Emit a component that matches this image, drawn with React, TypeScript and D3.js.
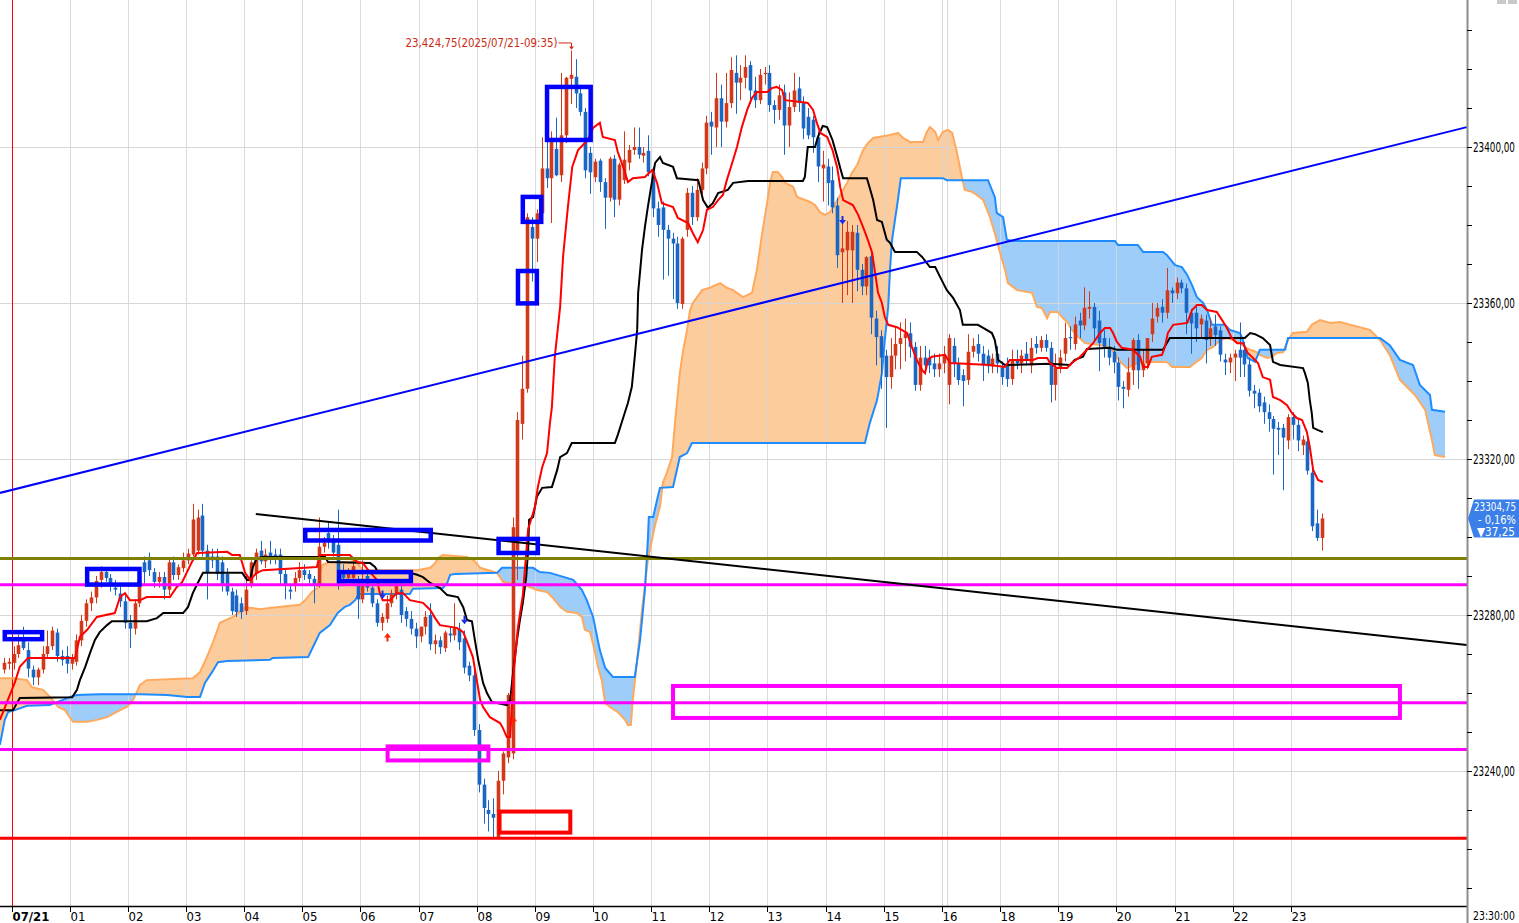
import React from "react";
import * as d3 from "d3";

// ---------------- DATA ----------------
// 5-minute bars, bar index 0 = 07/21 00:00 (hour 17 has no bars: 18:00 = index 204)
const FIRST_BAR = -2;
const SKIP_FROM_BAR = 204;
// [open, high, low, close]
const ohlc: number[][] = [
  [23266, 23269, 23265, 23267.75], [23267.5, 23269, 23266, 23268],
  [23267.75, 23272, 23266, 23270], [23270, 23275, 23269, 23272.25], [23274, 23277, 23271, 23271.5],
  [23271, 23273, 23264, 23266.25], [23266, 23267, 23262, 23264], [23264, 23266.5, 23262, 23266],
  [23266, 23272, 23265, 23270], [23270, 23276, 23269, 23272], [23272, 23277, 23271, 23276],
  [23275.5, 23276.5, 23268, 23269.5], [23269.5, 23271, 23267, 23268.5], [23269.5, 23272, 23265, 23267.5],
  [23267.5, 23270, 23266, 23269], [23268, 23275, 23267, 23273.5], [23273.5, 23280, 23272, 23278.5],
  [23278.5, 23284, 23277, 23283], [23283, 23286, 23281, 23284.5], [23284.5, 23290, 23283, 23288.75],
  [23289, 23292.5, 23287, 23291], [23291, 23292, 23288.5, 23289.5], [23289.5, 23290.5, 23286, 23288],
  [23287, 23289, 23285, 23286.5], [23285.5, 23287.5, 23282, 23283.5], [23283.5, 23285, 23276.5, 23278],
  [23278, 23280, 23271.5, 23276.5], [23276.5, 23284, 23275, 23283], [23283, 23290, 23282, 23289],
  [23293.5, 23295, 23288, 23291], [23294, 23296, 23290, 23291.5], [23291, 23292, 23287, 23288.5],
  [23288.5, 23291, 23287, 23289.75], [23289.75, 23291, 23284, 23286.5], [23286.5, 23294.5, 23285, 23293.5],
  [23293.5, 23295, 23289, 23290.25], [23290.25, 23293, 23289, 23292.25], [23292, 23296, 23291, 23294],
  [23294, 23297, 23293, 23295.75], [23295.5, 23308.5, 23295, 23304.5], [23296.5, 23307, 23295.5, 23305],
  [23305.5, 23308.5, 23295, 23296.5], [23296.5, 23298, 23284, 23291], [23295, 23297, 23292, 23294],
  [23295, 23297, 23289, 23290.5], [23293.5, 23295, 23286, 23288], [23290.5, 23292, 23285, 23286],
  [23286, 23287, 23280, 23281], [23285, 23286.5, 23279.5, 23280.75], [23283, 23284.5, 23279, 23280.75],
  [23281, 23290, 23280, 23286.5], [23288, 23294, 23287, 23293.5], [23290.5, 23297, 23289, 23296],
  [23296.5, 23299, 23293, 23293.75], [23293.75, 23297, 23292, 23295.5], [23296, 23299, 23293, 23294.5],
  [23295.5, 23297, 23293, 23294.5], [23295.5, 23297, 23288, 23290.5], [23290.5, 23291.5, 23284, 23287.5],
  [23286.5, 23288, 23284, 23286], [23287.5, 23291, 23286, 23289.5], [23289.5, 23293.5, 23288.5, 23291.5],
  [23291.5, 23293, 23289, 23290.25], [23290.5, 23291.5, 23288, 23289.25], [23289.25, 23290, 23283, 23287.75],
  [23288, 23305, 23287, 23297.5], [23297.5, 23300, 23296, 23298.5], [23301, 23304, 23297, 23299],
  [23299, 23300.5, 23295, 23296], [23298, 23307, 23286.5, 23288], [23291.5, 23293, 23288, 23289.5],
  [23289.5, 23292, 23288.5, 23290.5], [23289.5, 23294, 23288, 23292.5], [23288, 23290, 23279, 23284],
  [23284, 23294, 23283, 23287.5], [23290, 23292, 23286, 23287], [23287, 23288, 23282, 23283],
  [23283, 23284, 23277, 23278], [23278, 23280.5, 23276, 23279.5], [23279, 23285, 23278, 23283],
  [23283, 23286.5, 23282, 23285.5], [23285.5, 23289, 23284, 23287.5], [23286.5, 23289, 23278, 23280],
  [23281, 23282, 23277, 23279], [23279, 23281, 23275, 23276.5], [23276.5, 23278, 23271.5, 23274.5],
  [23274.5, 23277, 23273, 23277], [23277, 23281, 23275, 23279.5], [23280, 23283, 23271, 23272.5],
  [23272.5, 23275, 23270, 23273.5], [23273.5, 23274.5, 23270, 23271.75], [23271.5, 23276, 23270.5, 23275.5],
  [23275.25, 23277, 23273, 23274.75], [23274.75, 23283, 23273.5, 23276.75], [23276.5, 23278, 23271, 23273],
  [23274, 23276, 23265, 23266.5], [23267, 23268, 23263, 23264.5], [23264.5, 23266, 23249, 23250.5],
  [23250.5, 23252, 23234.5, 23236.5], [23236.5, 23238, 23226.5, 23230.5], [23230, 23232.5, 23224.5, 23229],
  [23229, 23233, 23223, 23228], [23223, 23240, 23222.5, 23237.5], [23237.5, 23245, 23234, 23244.5],
  [23243.5, 23260, 23242, 23259.5], [23244.5, 23305, 23243, 23302.5], [23296.5, 23332, 23289, 23330],
  [23329, 23346.5, 23325, 23338], [23338, 23383, 23337, 23382], [23379.5, 23382, 23365.5, 23376.5],
  [23376.5, 23384, 23370.5, 23383], [23383, 23402.5, 23382, 23394.5], [23394.5, 23401.5, 23389.5, 23392],
  [23392, 23404, 23380.5, 23402.25], [23399.5, 23407.5, 23392.5, 23392.75], [23392.75, 23419, 23391, 23403],
  [23403, 23418, 23401, 23417.75], [23417.5, 23424.75, 23411, 23418.5], [23418, 23422.5, 23410, 23413.75],
  [23413.75, 23415, 23408, 23409], [23409, 23410, 23392, 23394], [23398.5, 23400, 23388, 23393.5],
  [23392.25, 23397, 23391, 23396.25], [23396.5, 23397, 23388.5, 23391], [23391, 23392, 23379, 23387],
  [23387, 23397.5, 23386, 23397], [23397, 23398, 23382, 23386.5], [23386.5, 23396, 23385, 23395.5],
  [23391.5, 23404, 23390.5, 23396.75], [23396, 23400.5, 23394, 23399.25], [23399.25, 23405, 23398, 23400],
  [23400, 23405, 23397, 23398], [23397.75, 23400, 23396, 23398.5], [23399, 23403, 23392.5, 23393.5],
  [23393.5, 23395, 23382, 23384.25], [23384.25, 23386, 23377, 23380], [23384.5, 23386, 23366, 23378.75],
  [23378.75, 23380, 23367, 23376.5], [23376.5, 23378, 23361, 23375.25], [23375.25, 23377, 23358.5, 23360],
  [23359.75, 23377, 23358.5, 23376.5], [23378.75, 23389.5, 23377, 23388.25], [23388.25, 23390, 23380, 23382],
  [23382, 23392, 23381, 23389], [23389, 23396, 23388, 23394.5], [23394.5, 23408, 23393, 23406.25],
  [23406.5, 23409, 23398, 23405.25], [23405, 23419, 23400, 23412.5], [23412.5, 23416, 23400, 23406.5],
  [23406.5, 23419, 23405, 23411.25], [23411.25, 23423, 23410, 23419.75], [23419, 23423.5, 23408.5, 23416.5],
  [23416.5, 23421, 23412, 23417.75], [23417.75, 23423.5, 23415, 23420.5], [23421, 23422, 23411, 23414.5],
  [23414.5, 23418, 23410, 23412], [23412, 23420, 23411, 23418.5], [23418.75, 23420.5, 23416, 23419],
  [23419, 23421, 23409, 23410.75], [23410.75, 23412, 23406, 23409.5], [23409.5, 23416, 23407, 23413.25],
  [23414, 23416, 23398, 23405.5], [23405.5, 23414, 23400, 23410.25], [23410.25, 23419, 23409, 23414.5],
  [23415, 23418, 23409, 23411.25], [23411.25, 23413, 23402, 23404.75], [23407.75, 23410, 23402, 23403],
  [23407, 23408, 23398.5, 23402.5], [23402.5, 23404, 23391, 23395], [23394.5, 23399, 23386, 23395.5],
  [23395, 23397, 23385, 23390.75], [23391.5, 23395, 23383, 23384.5], [23385, 23387, 23369, 23372.25],
  [23373, 23382, 23360, 23374], [23373.5, 23381, 23362, 23378.25], [23373.5, 23380, 23360, 23378.25],
  [23378, 23380, 23363, 23368.5], [23368.5, 23370, 23362, 23364.25], [23364.25, 23372, 23362, 23371.75],
  [23372, 23374, 23352, 23356.25], [23356, 23358, 23344, 23351.25], [23351.5, 23353, 23338, 23346],
  [23346.5, 23348, 23328, 23341], [23341, 23351, 23338, 23346.5], [23346.5, 23354, 23343, 23349.5],
  [23349.5, 23355, 23343, 23351], [23351, 23356, 23345, 23352.25], [23352.25, 23355, 23346, 23348.75],
  [23348.75, 23350, 23337.5, 23339], [23339, 23349, 23337.5, 23346], [23346, 23349, 23343, 23344],
  [23346, 23348, 23342, 23344], [23344.5, 23347, 23341, 23343], [23343, 23347, 23341, 23344.5],
  [23344.5, 23349, 23342, 23346.75], [23339, 23352, 23334, 23351], [23349, 23351, 23341, 23344.5],
  [23344.5, 23346, 23339, 23340.25], [23341.5, 23343, 23333.5, 23340], [23340.25, 23352, 23339, 23347.5],
  [23347.5, 23351, 23346, 23349], [23349.5, 23352, 23345, 23347], [23347, 23349, 23340, 23344],
  [23346.5, 23348, 23342, 23343.75], [23343.75, 23347, 23342, 23345.75], [23347, 23349, 23342, 23344.5],
  [23343.5, 23345, 23339, 23341], [23344.5, 23346, 23338.5, 23340.5], [23340.5, 23348, 23339, 23345.5],
  [23345.5, 23348, 23343, 23344.5], [23344.5, 23348, 23342, 23346.5], [23347, 23350, 23344, 23345.5],
  [23344, 23351, 23342, 23348.5], [23349.5, 23351.5, 23347, 23348.5], [23348.5, 23351.5, 23347.5, 23350.5],
  [23350.5, 23352, 23347.5, 23348.5], [23348.5, 23350, 23334.5, 23339], [23339, 23347, 23335, 23343.5],
  [23343.5, 23348, 23342, 23346], [23347, 23355, 23345, 23351], [23351.25, 23354, 23348, 23351],
  [23349.5, 23356.5, 23348, 23354.5], [23355.5, 23357.5, 23351, 23354.25], [23354.25, 23364, 23353, 23358.75],
  [23358.5, 23363, 23356, 23359], [23359, 23360, 23350, 23353.5], [23355.5, 23358, 23342.5, 23349.75],
  [23351, 23353, 23346, 23348.75], [23348.75, 23351, 23344, 23346], [23347.5, 23349, 23342, 23344.75],
  [23344.75, 23346, 23335, 23338.5], [23338.5, 23340, 23333, 23338], [23337.75, 23346, 23336, 23342.25],
  [23342.75, 23351, 23339, 23350.5], [23350.5, 23352, 23338, 23342.75], [23342.75, 23348, 23341, 23344.5],
  [23344.5, 23351, 23343, 23351], [23352, 23360, 23350, 23356], [23356.5, 23360, 23355, 23358.75],
  [23359, 23361, 23355, 23357.5], [23357.5, 23369, 23356, 23363.25], [23363.25, 23364, 23360, 23362.5],
  [23362.5, 23366.5, 23361, 23365.25], [23365.25, 23366, 23362.5, 23363.75], [23363.75, 23365, 23352, 23357.5],
  [23357.5, 23358.5, 23347, 23354.75], [23357.5, 23359, 23350, 23353.5], [23354.5, 23357, 23351, 23356],
  [23355.5, 23357, 23344.5, 23350.5], [23351, 23356, 23349, 23353.5], [23354, 23357, 23349, 23351.75],
  [23353, 23354, 23345, 23346.75], [23345.5, 23347, 23341.5, 23344.75], [23344.75, 23347, 23342, 23346],
  [23346, 23348, 23340, 23347], [23348, 23355, 23341, 23346], [23348, 23350, 23341, 23344.25],
  [23344.25, 23346, 23336, 23337.5], [23337.5, 23339, 23333, 23336.75], [23337, 23338, 23332, 23333.5],
  [23334.5, 23336, 23329, 23332], [23332, 23334, 23327, 23330.25], [23330.25, 23331, 23316, 23327.75],
  [23328, 23329.5, 23321, 23327.5], [23328, 23329, 23312, 23325.5], [23324.75, 23331.5, 23322.5, 23330.75],
  [23330.75, 23332, 23325, 23328.75], [23328.75, 23330.5, 23322, 23324.75], [23323.5, 23326, 23321, 23325],
  [23324.5, 23326, 23316, 23317], [23316.5, 23318, 23301.5, 23302.75], [23303.5, 23307, 23299, 23299.75],
  [23299.75, 23306, 23296.5, 23304.75],
];

// Ichimoku lines: [bar index, price]
const tenkan: number[][] = [
  [-2.8, 23253.1], [0.3, 23262.8], [1.3, 23266.7], [3.0, 23269], [12.7, 23269], [13.7, 23274.4], [15.2, 23276.2],
  [17.2, 23279.5], [20.9, 23280.5], [22.0, 23284.6], [23.0, 23285.6], [24.0, 23283.8], [26.1, 23283.8],
  [27.5, 23284.6], [32.3, 23284.6], [33.7, 23287.2], [34.8, 23288.4], [35.8, 23291], [36.8, 23293.6],
  [37.9, 23295.9], [44.1, 23296.2], [45.1, 23295.4], [46.7, 23295.4], [47.8, 23290.8], [48.8, 23289],
  [50.2, 23290.8], [51.5, 23291.5], [62.6, 23292.3], [63.2, 23295.4], [69.4, 23295.4], [70.9, 23293.6],
  [72.1, 23293.3], [73.2, 23291.5], [75.0, 23289], [75.6, 23285.6], [76.2, 23283.8], [77.7, 23283.8],
  [79.1, 23285.6], [80.4, 23285.6], [81.8, 23283.8], [84.5, 23283.1], [86.0, 23281.3], [87.0, 23279.2],
  [88.0, 23277.4], [91.5, 23276.7], [92.8, 23275.6], [93.6, 23273.1], [94.8, 23269.2], [95.6, 23263.3],
  [96.3, 23258.2], [96.9, 23256.4], [98.3, 23253.8], [100.4, 23252.3], [101.0, 23251], [101.8, 23248.7],
  [102.5, 23248.7], [103.1, 23263.8], [104.1, 23276.9], [105.1, 23285.1], [106.2, 23302], [107.6, 23307.7],
  [108.2, 23312.8], [109.1, 23317.9], [110.1, 23321.5], [110.7, 23329.2], [111.1, 23333.3], [111.7, 23346.2],
  [112.8, 23359], [113.4, 23371.8], [114.4, 23384.6], [115.3, 23394.9], [116.5, 23399.2], [118.5, 23401.8],
  [119.6, 23404.9], [121.0, 23406.2], [121.6, 23402.6], [124.1, 23401.8], [124.7, 23398.7], [125.8, 23394.9],
  [126.8, 23391], [127.8, 23392], [130.3, 23392.3], [131.8, 23394.1], [132.8, 23390.8], [133.8, 23385.6],
  [136.1, 23384.6], [137.1, 23381.8], [139.2, 23380.5], [140.2, 23377.9], [141.2, 23375.6], [142.3, 23378.7],
  [143.1, 23383.9], [144.3, 23384.6], [145.4, 23386.4], [146.4, 23387.7], [147.2, 23391.5], [148.3, 23395.9],
  [149.3, 23400], [150.3, 23405.1], [151.4, 23409.5], [152.4, 23412.6], [153.4, 23414.1], [155.5, 23414.1],
  [156.5, 23415.1], [157.5, 23415.4], [158.6, 23414.6], [159.2, 23412], [162.9, 23411.5], [163.9, 23411.3],
  [165.0, 23409.5], [165.8, 23406.1], [166.5, 23403.6], [167.9, 23402.6], [169.0, 23399.2], [170.0, 23394.6],
  [170.6, 23389.7], [171.2, 23386.4], [173.2, 23385.1], [174.3, 23382.6], [175.3, 23379.5], [176.3, 23376.2],
  [177.2, 23372.8], [177.8, 23367.7], [178.4, 23362.6], [179.2, 23360], [179.8, 23356.4], [180.5, 23354.4],
  [182.3, 23353.8], [184.4, 23352.3], [185.4, 23348.7], [186.4, 23345.4], [187.5, 23342.8], [188.1, 23342],
  [188.7, 23345.4], [189.5, 23346.2], [192.2, 23346.7], [193.3, 23344.6], [201.5, 23344.1], [204.6, 23343.6],
  [205.6, 23345.4], [210.4, 23345.4], [211.4, 23345.9], [213.3, 23345.9], [213.9, 23344.6], [215.3, 23343.3],
  [217.4, 23343.3], [218.4, 23344.6], [220.1, 23346.2], [221.5, 23348], [222.8, 23349.7], [224.2, 23352.3],
  [225.2, 23353.6], [226.3, 23353.6], [226.9, 23352.3], [227.7, 23350], [228.7, 23348.5], [231.0, 23348],
  [232.5, 23346.2], [233.1, 23343.6], [234.1, 23343.6], [234.9, 23346.2], [237.0, 23346.7], [237.6, 23348.7],
  [238.2, 23352.3], [239.3, 23354.4], [242.2, 23354.9], [243.2, 23358.2], [244.2, 23359.5], [245.2, 23359.5],
  [246.3, 23358.2], [248.3, 23357.7], [249.4, 23355.6], [250.4, 23353.6], [251.4, 23351], [252.5, 23349.7],
  [253.7, 23349.7], [254.7, 23347.2], [255.8, 23345.9], [256.8, 23344.6], [257.8, 23341], [259.3, 23340.3],
  [259.9, 23335.9], [261.4, 23335.1], [262.8, 23333.8], [263.8, 23331.8], [264.8, 23330.5], [265.9, 23330],
  [266.9, 23326.9], [267.5, 23323.1], [268.2, 23317.2], [269.2, 23314.6], [270.2, 23314.1],
];

const kijun: number[][] = [
  [-2.8, 23255.6], [-0.1, 23255.6], [0.7, 23257.4], [1.3, 23258.7], [12.1, 23258.9], [13.1, 23260.8],
  [13.7, 23263.3], [14.8, 23266.7], [15.8, 23270.3], [16.8, 23273.6], [17.8, 23275.6], [19.3, 23277.4],
  [20.3, 23278.4], [27.5, 23278.4], [29.6, 23279.2], [30.9, 23280.5], [35.0, 23280.5], [36.0, 23282],
  [37.0, 23285.6], [38.1, 23288.4], [39.1, 23290.8], [47.2, 23290.8], [48.2, 23289], [48.8, 23289],
  [49.4, 23292.3], [50.2, 23294.6], [51.5, 23294.9], [64.3, 23294.9], [64.9, 23293.6], [73.6, 23293.3],
  [74.6, 23292.3], [75.2, 23291], [81.8, 23290.8], [83.3, 23290.3], [84.5, 23289.7], [86.0, 23288.2],
  [88.0, 23286.9], [89.5, 23285.1], [91.7, 23284.6], [92.8, 23282], [93.6, 23278.7], [94.6, 23278.4],
  [95.2, 23273.6], [95.9, 23268.5], [96.9, 23262.6], [97.7, 23260], [98.7, 23257.7], [101.8, 23256.9],
  [102.5, 23258.2], [103.1, 23265.4], [103.9, 23273.6], [104.5, 23278.7], [105.1, 23283.1], [105.8, 23289.7],
  [106.2, 23296.7], [106.4, 23304.4], [107.2, 23305.1], [108.0, 23310.3], [109.1, 23312.6], [111.1, 23312.8],
  [112.2, 23317.2], [112.8, 23320.5], [114.2, 23321.5], [115.2, 23324.1], [124.1, 23324.1], [124.7, 23326.2],
  [125.8, 23330.5], [126.8, 23334.4], [127.6, 23338.5], [128.2, 23346.2], [128.7, 23353.1], [128.9, 23362.6],
  [129.7, 23373.6], [130.3, 23379.5], [130.9, 23384.6], [131.8, 23391.5], [132.4, 23395.9], [133.4, 23397.4],
  [134.0, 23395.9], [136.1, 23394.9], [136.9, 23392], [141.3, 23391.5], [142.3, 23386.4], [143.3, 23384.4],
  [144.3, 23385.6], [145.4, 23388.2], [147.4, 23389], [148.5, 23390.8], [151.6, 23391.3], [162.9, 23391.3],
  [163.3, 23392.3], [163.9, 23400], [165.4, 23400], [166.0, 23402.6], [167.0, 23405.4], [167.9, 23405.1],
  [169.0, 23401.8], [170.0, 23397.4], [170.6, 23394.6], [171.2, 23392], [176.1, 23392], [176.7, 23389.5],
  [177.4, 23386.4], [178.2, 23381.3], [179.2, 23380.8], [180.2, 23376.2], [180.9, 23375.4], [181.9, 23373.1],
  [186.4, 23373.1], [187.5, 23371.8], [189.1, 23369.2], [190.2, 23369.2], [191.2, 23366.7], [192.6, 23363.3],
  [193.9, 23361.3], [195.3, 23358.2], [195.9, 23354.4], [199.0, 23354.4], [200.1, 23353.6], [201.9, 23352.3],
  [202.5, 23350.5], [203.2, 23345.4], [204.6, 23344.1], [213.9, 23344.4], [218.0, 23344.1], [219.0, 23345.4],
  [220.7, 23346.2], [221.5, 23348.2], [226.3, 23348.5], [227.7, 23348], [237.2, 23348], [238.6, 23351],
  [254.1, 23351], [255.2, 23352.3], [256.2, 23352], [257.8, 23351], [259.3, 23349.2], [259.9, 23344.9],
  [261.4, 23344.1], [266.1, 23343.3], [266.5, 23342], [267.1, 23339.5], [267.5, 23335.1], [267.9, 23331.8],
  [268.2, 23328], [269.2, 23327.4], [270.2, 23326.9],
];

const spanA: number[][] = [
  [-2.8, 23263.8], [-0.1, 23263.8], [2.8, 23263.3], [3.8, 23261.5], [6.1, 23260.8], [7.5, 23259],
  [8.6, 23257.4], [9.2, 23256.4], [10.6, 23255.6], [11.7, 23253.6], [12.3, 23252.6], [15.2, 23252.6],
  [17.2, 23253.1], [19.3, 23253.8], [22.0, 23255.6], [23.4, 23256.4], [24.7, 23258.2], [26.1, 23262.1],
  [27.5, 23263.3], [37.0, 23263.8], [38.5, 23265.4], [39.9, 23269.2], [41.2, 23273.1], [42.6, 23278],
  [45.3, 23279.5], [46.7, 23280.8], [47.8, 23282], [50.9, 23281.5], [52.9, 23281.8], [59.1, 23282.6],
  [60.2, 23283.8], [61.6, 23285.9], [62.6, 23286.9], [63.7, 23292.8], [65.3, 23293.6], [69.4, 23293.6],
  [70.9, 23294.1], [71.5, 23292.3], [72.1, 23291.5], [83.3, 23291.5], [86.0, 23292.1], [87.0, 23293.3],
  [87.6, 23294.6], [88.6, 23295.4], [93.6, 23294.9], [95.2, 23293.8], [96.3, 23292.1], [99.8, 23290.8],
  [101.0, 23288.5], [102.5, 23288.2], [105.5, 23287.7], [108.0, 23286.4], [110.1, 23285.9], [111.3, 23284.4],
  [112.8, 23282.1], [114.2, 23280.8], [116.3, 23280.5], [117.3, 23279.5], [117.9, 23276.2], [119.0, 23275.6],
  [120.0, 23270.5], [120.6, 23266.7], [121.4, 23263.3], [122.1, 23257.4], [123.1, 23256.4], [124.7, 23255.1],
  [126.2, 23253.1], [126.8, 23251.8], [127.4, 23251.8], [127.8, 23258.2], [128.7, 23268.5], [129.7, 23281.3],
  [130.9, 23294.1], [132.4, 23303.1], [133.4, 23307.7], [134.0, 23313.9], [134.8, 23316.4], [135.9, 23320.5],
  [136.5, 23329.2], [137.5, 23342], [138.2, 23347.9], [139.0, 23353.1], [139.6, 23358.2], [140.2, 23360],
  [142.1, 23363.3], [143.7, 23363.9], [145.8, 23365.1], [147.2, 23363.9], [148.5, 23363.3], [150.5, 23361.5],
  [152.4, 23362.6], [153.4, 23368.5], [154.5, 23377.9], [155.5, 23385.6], [156.1, 23390.8], [156.7, 23393.6],
  [157.7, 23393.6], [158.6, 23392.3], [159.2, 23390.8], [160.9, 23389.8], [161.7, 23387.2], [164.4, 23385.9],
  [165.4, 23385.1], [166.4, 23383.3], [167.5, 23382.6], [168.5, 23383.3], [170.0, 23386.4], [171.0, 23388.5],
  [172.0, 23390.8], [173.0, 23393.3], [174.1, 23395.4], [175.3, 23399.2], [176.3, 23401], [177.4, 23402.3],
  [180.9, 23403.1], [182.5, 23403.6], [183.6, 23402.3], [185.0, 23401.3], [187.7, 23401.3], [188.5, 23403.9],
  [189.1, 23405.1], [190.2, 23403.9], [190.8, 23401.8], [191.8, 23403.9], [192.8, 23404.4], [193.7, 23403.6],
  [194.7, 23398.5], [195.7, 23392.3], [196.3, 23389], [197.8, 23388.5], [198.8, 23387.7], [200.1, 23386.4],
  [201.5, 23382], [202.5, 23377.9], [203.6, 23372.8], [204.6, 23368.5], [205.2, 23365.1], [207.1, 23363.3],
  [210.2, 23362.6], [211.2, 23359], [212.2, 23358.7], [213.3, 23356.1], [213.9, 23357.7], [215.5, 23357.7],
  [216.6, 23356.1], [217.6, 23354.9], [218.4, 23353.1], [219.7, 23351.3], [221.1, 23349.7], [224.2, 23349.2],
  [226.3, 23348.7], [227.7, 23346.2], [228.7, 23344.6], [229.8, 23343.3], [232.5, 23344.9], [238.0, 23344.9],
  [239.1, 23343.6], [242.8, 23343.6], [243.8, 23344.6], [245.2, 23345.9], [246.3, 23348], [247.5, 23348.7],
  [249.0, 23350.5], [250.4, 23351], [251.7, 23350.5], [253.1, 23349.7], [254.1, 23348.7], [255.2, 23348],
  [256.6, 23347.4], [257.2, 23346.7], [258.7, 23345.9], [259.7, 23346.2], [260.7, 23347.2], [262.0, 23347.4],
  [263.0, 23350.5], [264.0, 23352.3], [266.9, 23352.6], [267.9, 23354.4], [269.6, 23355.6], [271.7, 23354.9],
  [273.7, 23355.1], [275.8, 23354.4], [279.9, 23353.1], [282.0, 23350.5], [284.0, 23346.7], [286.1, 23340.3],
  [289.2, 23336.4], [291.3, 23332.6], [292.7, 23324.9], [293.3, 23321], [295.4, 23320.5],
];

const spanB: number[][] = [
  [-2.8, 23246.7], [-1.8, 23253.1], [-1.1, 23255.1], [0.3, 23255.6], [2.8, 23256.7], [7.5, 23256.9],
  [11.7, 23259], [13.1, 23259.5], [17.8, 23259.7], [26.1, 23259.7], [31.7, 23259.5], [35.8, 23259],
  [38.5, 23259], [39.5, 23262.6], [41.0, 23265.4], [42.2, 23267.9], [44.1, 23268.2], [52.9, 23268.5],
  [53.5, 23269], [60.8, 23269.2], [61.8, 23271.8], [63.2, 23275.4], [65.3, 23277.4], [66.9, 23280.5],
  [68.4, 23282.1], [69.4, 23282.6], [70.5, 23283.8], [71.1, 23285.1], [71.5, 23285.4], [81.8, 23285.4],
  [82.4, 23286.7], [88.6, 23286.9], [89.5, 23288.2], [90.1, 23290.3], [91.1, 23290.5], [99.8, 23290.8],
  [100.8, 23292.1], [107.2, 23292.1], [108.6, 23291], [110.7, 23290.8], [115.5, 23289], [117.3, 23286.4],
  [118.3, 23283.8], [119.6, 23279.5], [121.0, 23271], [122.1, 23266.4], [123.7, 23264.1], [128.2, 23264.1],
  [129.3, 23273.6], [130.3, 23286.4], [130.9, 23299.2], [131.1, 23305.1], [132.0, 23305.1], [132.8, 23309.5],
  [133.4, 23312.6], [136.1, 23312.8], [137.5, 23320.5], [139.0, 23321.5], [140.0, 23324.1], [175.7, 23324.1],
  [176.7, 23329.2], [178.2, 23335.1], [179.2, 23342], [179.8, 23350.5], [180.5, 23359], [180.9, 23369.2],
  [181.3, 23376.2], [181.9, 23381.3], [182.5, 23386.4], [183.1, 23392], [191.8, 23392], [192.6, 23391.5],
  [201.1, 23391.5], [201.9, 23389], [202.5, 23387.2], [202.9, 23383.1], [204.2, 23382], [205.0, 23376.2],
  [206.2, 23375.9], [227.3, 23375.9], [227.9, 23374.9], [232.0, 23374.9], [233.1, 23373.1], [237.2, 23373.1],
  [238.0, 23372.3], [239.7, 23369.7], [241.1, 23369.2], [242.2, 23367.2], [243.2, 23364.6], [244.2, 23361.5],
  [245.5, 23360], [246.3, 23358.2], [247.3, 23354.4], [250.0, 23354.4], [251.0, 23353.1], [253.1, 23352.3],
  [253.7, 23350.5], [254.7, 23345.9], [256.2, 23344.9], [257.2, 23348], [262.4, 23348], [263.0, 23351],
  [282.0, 23351], [284.0, 23349.2], [286.1, 23345.4], [288.8, 23344.1], [290.2, 23339], [292.3, 23336.4],
  [292.7, 23332.6], [295.4, 23332.1],
];

// x-axis: [bar index, label]
const hourTicks: [number, string][] = [
  [0, "07/21"], [12, "01"], [24, "02"], [36, "03"], [48, "04"], [60, "05"], [72, "06"], [84, "07"],
  [96, "08"], [108, "09"], [120, "10"], [132, "11"], [144, "12"], [156, "13"], [168, "14"], [180, "15"],
  [192, "16"], [204, "18"], [216, "19"], [228, "20"], [240, "21"], [252, "22"], [264, "23"],
];
const sessionBreakBar = 193;
const priceTicks = [23240, 23280, 23320, 23360, 23400];
const minorPriceTicks = [23210, 23220, 23230, 23250, 23260, 23270, 23290, 23300, 23310, 23330, 23340, 23350, 23370, 23380, 23390, 23410, 23420, 23430];

// drawn horizontal levels
const oliveLevel = 23294.5;
const magentaLevels = [23287.75, 23257.5, 23245.5];
const redLevel = 23222.75;
// trend lines [[bar, price], [bar, price]]
const blueTrend = [[-2.8, 23311.3], [299.9, 23405.1]];
const blackTrend = [[50.0, 23305.9], [299.9, 23272.3]];
// annotation boxes [bar0, bar1, priceTop, priceBottom]
const blueBoxes = [
  [-1.8, 5.9, 23275.6, 23273.8], [15.2, 26.0, 23291.8, 23287.8], [60.2, 86.1, 23301.8, 23299.1],
  [67.2, 82.0, 23291.0, 23288.7], [100.1, 108.2, 23299.5, 23295.9], [104.1, 108.0, 23368.2, 23359.9],
  [105.1, 108.9, 23387.2, 23380.8], [110.1, 119.1, 23415.4, 23401.8],
];
const magentaBoxes = [[77.2, 98.0, 23246.3, 23242.7], [136.1, 286.1, 23261.8, 23253.6]];
const redBoxes = [[100.3, 114.9, 23229.6, 23224.2]];
// signal arrows [bar, price]
const sellSignals = [[76, 23284.5], [93, 23278], [171, 23380.5]];
const buySignals = [[77, 23275], [103, 23253.5]];

const changeAbs = 37.25;
const changePct = 0.16;
const sessionDate = "2025/07/21";

// ---------------- CHART ----------------
const FONT = "'Liberation Sans Narrow', 'DejaVu Sans Condensed', 'Arial Narrow', 'Liberation Sans', Arial, sans-serif";
const UP = "#d2391a";
const DOWN = "#1a66c4";

let measureCtx: CanvasRenderingContext2D | null = null;
function measureText(text: string, size: number, weight: string): number {
  try {
    if (!measureCtx) measureCtx = document.createElement("canvas").getContext("2d");
    if (measureCtx) {
      measureCtx.font = `${weight} ${size}px ${FONT}`;
      return measureCtx.measureText(text).width || text.length * size * 0.55;
    }
  } catch (e) {
    /* ignore */
  }
  return text.length * size * 0.55;
}

// text squeezed horizontally to a target width (like the condensed bitmap font of the original)
function FitText(props: {
  x: number;
  y: number;
  text: string;
  size: number;
  width: number;
  fill: string;
  weight?: string;
  anchor?: "start" | "end";
}) {
  const weight = props.weight || "normal";
  const w = measureText(props.text, props.size, weight);
  const sx = props.width / w;
  const left = props.anchor === "end" ? props.x - props.width : props.x;
  return (
    <text
      transform={`translate(${left},${props.y}) scale(${sx},1)`}
      fontSize={props.size}
      fontWeight={weight}
      fill={props.fill}
    >
      {props.text}
    </text>
  );
}

function interp(pts: number[][], t: number): number {
  if (t <= pts[0][0]) return pts[0][1];
  for (let k = 1; k < pts.length; k++) {
    if (t <= pts[k][0]) {
      const [t0, v0] = pts[k - 1];
      const [t1, v1] = pts[k];
      return t1 === t0 ? v1 : v0 + ((v1 - v0) * (t - t0)) / (t1 - t0);
    }
  }
  return pts[pts.length - 1][1];
}

function barTime(i: number): string {
  const hh = Math.floor(i / 12) + (i >= SKIP_FROM_BAR ? 1 : 0);
  const mm = (((i % 12) + 12) % 12) * 5;
  return `${String(hh).padStart(2, "0")}:${String(mm).padStart(2, "0")}`;
}

export default function App() {
  const PR = 1467;
  const PB = 906;
  const x = d3.scaleLinear().domain([-2.786, 299.94]).range([0, PR]);
  const y = d3.scaleLinear().domain([23205.38, 23437.69]).range([PB, 0]);

  const bars = ohlc.map((d, k) => ({ i: FIRST_BAR + k, o: d[0], h: d[1], l: d[2], c: d[3] }));
  const line = d3
    .line<number[]>()
    .x((d) => x(d[0]))
    .y((d) => y(d[1]));

  const t0 = spanA[0][0];
  const t1 = spanA[spanA.length - 1][0];
  const grid = d3.range(t0, t1 + 0.001, 0.1);
  const cloud = grid.map((t) => ({ t, a: interp(spanA, t), b: interp(spanB, t) }));
  const orangeArea = d3
    .area<any>()
    .x((d) => x(d.t))
    .y0((d) => y(d.b))
    .y1((d) => y(Math.max(d.a, d.b)));
  const blueArea = d3
    .area<any>()
    .x((d) => x(d.t))
    .y0((d) => y(d.a))
    .y1((d) => y(Math.max(d.a, d.b)));

  const last = bars[bars.length - 1];
  const hiBar = bars.reduce((m, b) => (b.h > m.h ? b : m), bars[0]);
  const hiX = Math.round(x(hiBar.i)) + 0.5;
  const hiY = y(hiBar.h);
  const hiText = `${d3.format(",.2f")(hiBar.h).replace(".", ",")}(${sessionDate}-${barTime(hiBar.i)})`;
  const tagY = y(last.c);

  const boxRect = (b: number[], color: string, key: string, sw: number) => (
    <rect
      key={key}
      x={x(b[0])}
      y={y(b[2])}
      width={x(b[1]) - x(b[0])}
      height={y(b[3]) - y(b[2])}
      fill="none"
      stroke={color}
      strokeWidth={sw}
    />
  );

  const downArrow = (cx: number, cy: number) =>
    `M${cx - 1},${cy - 7}h2v4h2.5l-3.5,4.5l-3.5,-4.5h2.5z`;
  const upArrow = (cx: number, cy: number) =>
    `M${cx - 1},${cy + 7}h2v-4h2.5l-3.5,-4.5l-3.5,4.5h2.5z`;

  return (
    <div>
      <style>{`html,body{margin:0;padding:0;background:#fff;}`}</style>
      <svg width={1519} height={923} style={{ display: "block", background: "#fff" }} fontFamily={FONT}>
        <defs>
          <clipPath id="plotClip">
            <rect x={0} y={0} width={PR} height={PB} />
          </clipPath>
        </defs>
        <g clipPath="url(#plotClip)">
          {/* cloud */}
          <path d={orangeArea(cloud) || ""} fill="#fdcc9d" />
          <path d={blueArea(cloud) || ""} fill="#9fcdfa" />
          {/* grid */}
          {hourTicks.map(([b]) => (
            <line key={"vg" + b} x1={Math.round(x(b)) - 1.5} x2={Math.round(x(b)) - 1.5} y1={0} y2={PB} stroke="#d6d6d6" strokeOpacity={0.9} />
          ))}
          <line x1={Math.round(x(sessionBreakBar)) - 1.5} x2={Math.round(x(sessionBreakBar)) - 1.5} y1={0} y2={PB} stroke="#d6d6d6" />
          {priceTicks.map((p) => (
            <line key={"hg" + p} x1={0} x2={PR} y1={Math.round(y(p)) + 0.5} y2={Math.round(y(p)) + 0.5} stroke="#d6d6d6" />
          ))}
          {/* day separator */}
          <line x1={Math.round(x(0)) - 1.5} x2={Math.round(x(0)) - 1.5} y1={0} y2={PB} stroke="#ff0000" strokeWidth={1} />
          {/* cloud boundaries */}
          <path d={line(spanA) || ""} fill="none" stroke="#ffa95c" strokeWidth={2} />
          <path d={line(spanB) || ""} fill="none" stroke="#1e8cff" strokeWidth={2} />
          {/* candles */}
          {bars.map((b) => {
            const cx = Math.round(x(b.i));
            const col = b.c >= b.o ? UP : DOWN;
            const yt = y(Math.max(b.o, b.c));
            const yb = y(Math.min(b.o, b.c));
            return (
              <g key={"c" + b.i}>
                <line x1={cx + 0.5} x2={cx + 0.5} y1={y(b.h)} y2={y(b.l)} stroke={col} strokeWidth={1} />
                <rect x={cx - 1.3} y={yt} width={3.6} height={Math.max(1.2, yb - yt)} fill={col} />
              </g>
            );
          })}
          {/* kijun / tenkan */}
          <path d={line(kijun) || ""} fill="none" stroke="#000" strokeWidth={2} />
          <path d={line(tenkan) || ""} fill="none" stroke="#ff0000" strokeWidth={2} />
          {/* levels */}
          <line x1={0} x2={PR} y1={y(oliveLevel)} y2={y(oliveLevel)} stroke="#808000" strokeWidth={3} />
          {magentaLevels.map((v) => (
            <line key={"m" + v} x1={0} x2={PR} y1={y(v)} y2={y(v)} stroke="#ff00ff" strokeWidth={3} />
          ))}
          <line x1={0} x2={PR} y1={y(redLevel)} y2={y(redLevel)} stroke="#ff0000" strokeWidth={3} />
          {/* trend lines */}
          <line x1={x(blueTrend[0][0])} y1={y(blueTrend[0][1])} x2={x(blueTrend[1][0])} y2={y(blueTrend[1][1])} stroke="#0000ff" strokeWidth={2} />
          <line x1={x(blackTrend[0][0])} y1={y(blackTrend[0][1])} x2={x(blackTrend[1][0])} y2={y(blackTrend[1][1])} stroke="#000" strokeWidth={2} />
          {/* boxes */}
          {blueBoxes.map((b, k) => boxRect(b, "#0000ff", "bb" + k, 4.5))}
          {magentaBoxes.map((b, k) => boxRect(b, "#ff00ff", "mb" + k, 4))}
          {redBoxes.map((b, k) => boxRect(b, "#ff0000", "rb" + k, 4))}
          {/* signals */}
          {sellSignals.map(([b, p]) => (
            <path key={"s" + b} d={downArrow(Math.round(x(b)) + 0.5, y(p))} fill="#1530e8" />
          ))}
          {buySignals.map(([b, p]) => (
            <path key={"u" + b} d={upArrow(Math.round(x(b)) + 0.5, y(p))} fill="#ff2200" />
          ))}
          {/* high label */}
          <FitText x={hiX - 14} y={hiY - 3} text={hiText} size={12.5} width={152} fill="#cc2a10" anchor="end" />
          <path d={`M${hiX - 13},${hiY - 7.5}H${hiX}V${hiY - 3}`} fill="none" stroke="#cc2a10" strokeWidth={1} />
          <path d={`M${hiX - 2.5},${hiY - 4}h5l-2.5,3z`} fill="#cc2a10" />
        </g>

        {/* bottom axis */}
        <line x1={0} x2={PR} y1={PB + 0.5} y2={PB + 0.5} stroke="#000" strokeWidth={1.5} />
        {hourTicks.map(([b, lab]) => {
          const tx = Math.round(x(b)) - 1.5;
          return (
            <g key={"xt" + b}>
              <line x1={tx} x2={tx} y1={PB} y2={PB + 6} stroke="#000" />
              <text x={tx} y={PB + 15} fontSize={13} fontWeight={lab.includes("/") ? "bold" : "normal"} fill="#000">
                {lab}
              </text>
            </g>
          );
        })}
        <FitText x={1473} y={PB + 14} text={`${barTime(last.i)}:00`} size={13} width={42} fill="#000" />

        {/* right axis */}
        <line x1={PR + 0.5} x2={PR + 0.5} y1={0} y2={923} stroke="#8c8c8c" strokeWidth={2} />
        {minorPriceTicks.map((p) => (
          <line key={"mt" + p} x1={PR} x2={PR + 5} y1={Math.round(y(p)) + 0.5} y2={Math.round(y(p)) + 0.5} stroke="#000" />
        ))}
        {priceTicks.map((p) => (
          <g key={"yt" + p}>
            <line x1={PR} x2={PR + 5} y1={Math.round(y(p)) + 0.5} y2={Math.round(y(p)) + 0.5} stroke="#000" />
            <FitText x={PR + 6} y={y(p) + 4.8} text={p.toFixed(2).replace(".", ",")} size={13.5} width={42} fill="#000" />
          </g>
        ))}

        {/* last price tag */}
        <path d={`M${PR + 1},${tagY}L${PR + 7},${tagY - 19}H1519V${tagY + 19}H${PR + 7}Z`} fill="#3b7fe8" />
        <FitText x={PR + 7} y={tagY - 7} text={last.c.toFixed(2).replace(".", ",")} size={12.5} width={42} fill="#fff" />
        <FitText x={PR + 11} y={tagY + 5.5} text={`- ${changePct.toFixed(2).replace(".", ",")}%`} size={12.5} width={38} fill="#fff" />
        <FitText x={PR + 10} y={tagY + 18} text={`▼${changeAbs.toFixed(2).replace(".", ",")}`} size={12.5} width={38} fill="#fff" />

        {/* corner buttons */}
        <rect x={1497} y={0} width={9} height={4} fill="#c9c9c9" />
        <rect x={1508} y={0} width={9} height={4} fill="#c9c9c9" />
      </svg>
    </div>
  );
}
